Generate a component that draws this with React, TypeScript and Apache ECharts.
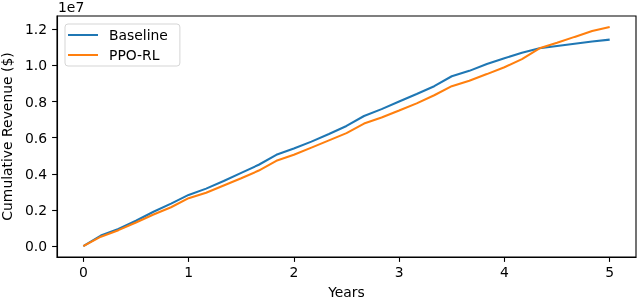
import React, { useEffect, useRef } from "react";
import * as echarts from "echarts";

const months = [0, 2, 4, 6, 8, 10, 12, 14, 16, 18, 20, 22, 24, 26, 28, 30, 32, 34, 36, 38, 40, 42, 44, 46, 48, 50, 52, 54, 56, 58, 60];
const baseline = [0, 580000, 950000, 1400000, 1900000, 2350000, 2830000, 3180000, 3600000, 4050000, 4500000, 5050000, 5400000, 5780000, 6200000, 6650000, 7200000, 7580000, 8000000, 8420000, 8850000, 9400000, 9700000, 10080000, 10400000, 10700000, 10950000, 11080000, 11200000, 11320000, 11430000];
const ppo = [0, 520000, 880000, 1300000, 1750000, 2150000, 2650000, 2950000, 3350000, 3750000, 4180000, 4720000, 5050000, 5450000, 5850000, 6250000, 6780000, 7120000, 7500000, 7900000, 8350000, 8850000, 9150000, 9520000, 9900000, 10350000, 10950000, 11250000, 11580000, 11900000, 12130000];
const xTicks = [0, 1, 2, 3, 4, 5];
const yTicks = [0, 2000000, 4000000, 6000000, 8000000, 10000000, 12000000];

const FONT = "DejaVu Sans";
const FS = 13.9;

export default function App() {
  const ref = useRef<HTMLDivElement>(null);
  useEffect(() => {
    if (!ref.current) return;
    const chart = echarts.init(ref.current, null, { renderer: "svg" });
    const years = months.map((m) => m / 12);
    const ymax = Math.max(...baseline, ...ppo);
    const pad = ymax * 0.05;
    chart.setOption({
      animation: false,
      textStyle: { fontFamily: FONT },
      grid: {
        left: 57,
        right: 4,
        top: 16,
        bottom: 44,
        outerBoundsMode: "none",
        containLabel: false,
        show: true,
        borderColor: "#000",
        borderWidth: 1.1,
        backgroundColor: "transparent",
      },
      legend: {
        left: 65,
        top: 24,
        orient: "vertical",
        icon: "rect",
        itemWidth: 30,
        itemHeight: 2,
        itemGap: 6,
        padding: [4, 12, 4, 3],
        borderColor: "#d5d5d5",
        borderWidth: 1,
        borderRadius: 3,
        backgroundColor: "rgba(255,255,255,0.8)",
        textStyle: { fontFamily: FONT, fontSize: FS, color: "#000", padding: [0, 0, 0, 6] },
        data: ["Baseline", "PPO-RL"],
      },
      xAxis: {
        type: "value",
        min: -0.25,
        max: 5.25,
        name: "Years",
        nameLocation: "middle",
        nameGap: 28,
        nameTextStyle: { fontFamily: FONT, fontSize: FS, color: "#000" },
        axisLine: { show: true, onZero: false, lineStyle: { color: "#000", width: 1.1 } },
        axisTick: { show: true, length: 4.9, lineStyle: { color: "#000", width: 1.1 }, customValues: xTicks },
        axisLabel: { fontFamily: FONT, fontSize: FS, color: "#000", margin: 8, customValues: xTicks, formatter: (v: number) => String(v) },
        splitLine: { show: false },
      },
      yAxis: {
        type: "value",
        min: -pad,
        max: ymax + pad,
        name: "Cumulative Revenue ($)",
        nameLocation: "middle",
        nameGap: 35,
        nameTextStyle: { fontFamily: FONT, fontSize: FS, color: "#000" },
        axisLine: { show: true, onZero: false, lineStyle: { color: "#000", width: 1.1 } },
        axisTick: { show: true, length: 4.9, lineStyle: { color: "#000", width: 1.1 }, customValues: yTicks },
        axisLabel: { fontFamily: FONT, fontSize: FS, color: "#000", margin: 10, customValues: yTicks, formatter: (v: number) => (v / 1e7).toFixed(1) },
        splitLine: { show: false },
      },
      graphic: [
        { type: "text", left: 58, top: 0, style: { text: "1e7", fontFamily: FONT, fontSize: FS, fill: "#000" } },
      ],
      series: [
        {
          name: "Baseline",
          type: "line",
          showSymbol: false,
          color: "#1f77b4",
          lineStyle: { width: 2.08, color: "#1f77b4" },
          data: years.map((t, i) => [t, baseline[i]]),
        },
        {
          name: "PPO-RL",
          type: "line",
          showSymbol: false,
          color: "#ff7f0e",
          lineStyle: { width: 2.08, color: "#ff7f0e" },
          data: years.map((t, i) => [t, ppo[i]]),
        },
      ],
    });
    return () => chart.dispose();
  }, []);
  return <div ref={ref} style={{ position: "fixed", left: 0, top: 0, width: 640, height: 301 }} />;
}
